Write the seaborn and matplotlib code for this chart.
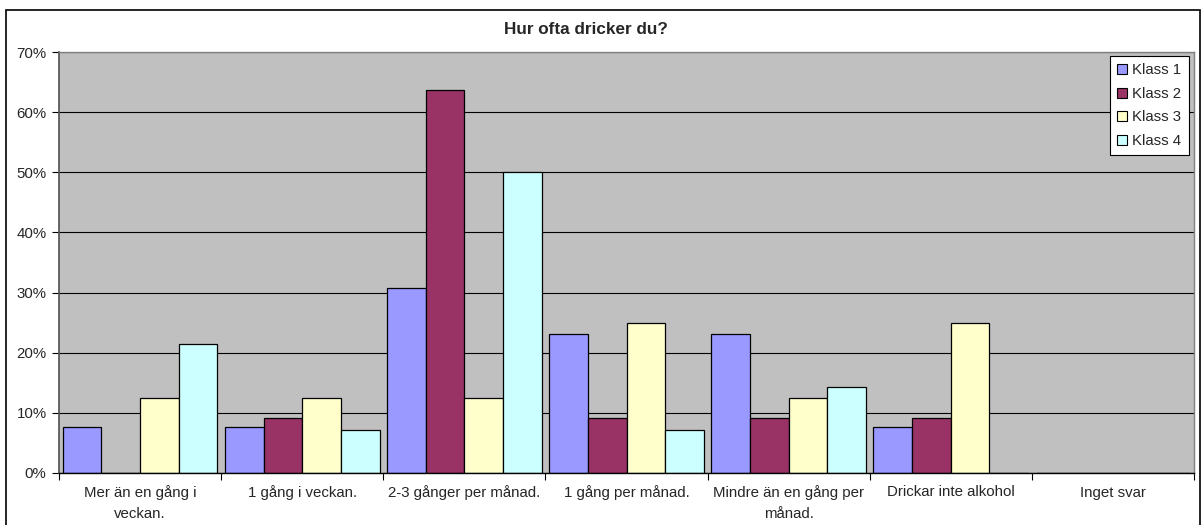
import matplotlib
matplotlib.use("Agg")
import matplotlib.pyplot as plt
import seaborn as sns
import pandas as pd
import numpy as np
from matplotlib.patches import Rectangle
from matplotlib.ticker import FixedLocator, FuncFormatter

categories = ["Mer än en gång i\nveckan.", "1 gång i veckan.", "2-3 gånger per månad.",
              "1 gång per månad.", "Mindre än en gång per\nmånad.", "Drickar inte alkohol",
              "Inget svar"]
series_names = ["Klass 1", "Klass 2", "Klass 3", "Klass 4"]
klass1 = [7.7, 7.7, 30.8, 23.1, 23.1, 7.7, 0.0]
klass2 = [0.0, 9.1, 63.6, 9.1, 9.1, 9.1, 0.0]
klass3 = [12.5, 12.5, 12.5, 25.0, 12.5, 25.0, 0.0]
klass4 = [21.4, 7.1, 50.0, 7.1, 14.3, 0.0, 0.0]
colors = ["#9999FF", "#993366", "#FFFFCC", "#CCFFFF"]
yticks = [0, 10, 20, 30, 40, 50, 60, 70]

rows = []
for name, vals in zip(series_names, [klass1, klass2, klass3, klass4]):
    for c, v in zip(categories, vals):
        rows.append({"kategori": c, "klass": name, "andel": v})
df = pd.DataFrame(rows)

sns.set_theme(style="white")
plt.rcParams["font.family"] = ["Liberation Sans", "DejaVu Sans"]

fs = 10.8
fig = plt.figure(figsize=(12.04, 5.25), dpi=100)
ax = fig.add_axes([59 / 1204, (525 - 473) / 525, (1194 - 59) / 1204, (473 - 52) / 525])

sns.barplot(data=df, x="kategori", y="andel", hue="klass", order=categories,
            hue_order=series_names, palette=colors, width=0.955, gap=0,
            edgecolor="black", linewidth=0.9, ax=ax, legend=True, errorbar=None,
            saturation=1)

ax.set_facecolor("#C0C0C0")
ax.set_xlim(-0.5, len(categories) - 0.5)
ax.set_ylim(0, 70)
ax.set_yticks(yticks)
ax.yaxis.set_major_formatter(FuncFormatter(lambda v, p: f"{int(v)}%"))
ax.grid(axis="y", color="black", linewidth=0.8)
ax.set_axisbelow(True)
ax.set_xlabel("")
ax.set_ylabel("")

# x ticks at category boundaries, labels centered
ax.xaxis.set_major_locator(FixedLocator(np.arange(-0.5, len(categories), 1.0)))
ax.xaxis.set_minor_locator(FixedLocator(np.arange(len(categories))))
ax.set_xticklabels([""] * (len(categories) + 1))
ax.set_xticklabels(categories, minor=True)
ax.tick_params(axis="x", which="major", direction="out", length=5, width=0.8, color="black",
               bottom=True)
ax.tick_params(axis="x", which="minor", length=0, pad=9, labelsize=fs)
for lbl in ax.get_xticklabels(minor=True):
    lbl.set_horizontalalignment("center")
    lbl.set_multialignment("center")
    lbl.set_linespacing(1.55)
ax.tick_params(axis="y", direction="out", length=5, width=0.8, color="black", left=True,
               labelsize=fs, pad=4)

for s in ["top", "right"]:
    ax.spines[s].set_color("#808080")
    ax.spines[s].set_linewidth(1.0)
ax.spines["left"].set_color("#555555")
ax.spines["bottom"].set_color("black")
ax.spines["bottom"].set_linewidth(1.0)

leg = ax.legend(loc="upper right", bbox_to_anchor=(1189 / 1204, (525 - 56) / 525),
                bbox_transform=fig.transFigure, frameon=True, fancybox=False,
                edgecolor="black", framealpha=1, fontsize=fs, handlelength=0.65,
                handleheight=0.65, handletextpad=0.35, labelspacing=0.63,
                borderpad=0.5, borderaxespad=0)
leg.get_frame().set_linewidth(0.8)
for h in leg.legend_handles:
    h.set_edgecolor("black")
    h.set_linewidth(0.8)

fig.text(586 / 1204, (525 - 29) / 525, "Hur ofta dricker du?",
         ha="center", va="center", fontsize=12.3, fontweight="bold")

fig.patches.append(Rectangle((6 / 1204, -0.05), (1200 - 6) / 1204, 1.05 - 9.5 / 525,
                             transform=fig.transFigure, fill=False, edgecolor="black",
                             linewidth=1.2, clip_on=False))

fig.savefig("out.png", dpi=100)
